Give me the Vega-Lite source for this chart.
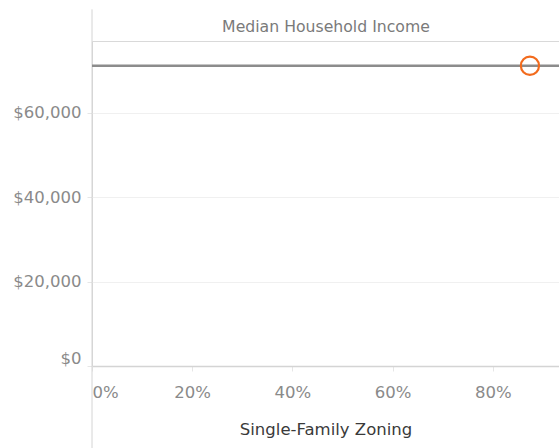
{
  "$schema": "https://vega.github.io/schema/vega-lite/v6.json",
  "autosize": {"type": "none"},
  "padding": {"left": 92, "top": 41, "right": 0, "bottom": 82},
  "width": 467,
  "height": 325,
  "background": "white",
  "config": {
    "font": "DejaVu Sans",
    "view": {"stroke": "#d9d9d9", "strokeWidth": 1}
  },
  "datasets": {
    "points": [{"zoning": 0.874, "income": 71140}],
    "ref": [{"income": 71140}],
    "border": [{"x": 0, "top": 84500, "bottom": -19500}]
  },
  "resolve": {"axis": {"x": "independent"}},
  "layer": [
    {
      "data": {"name": "border"},
      "mark": {"type": "rule", "color": "#d4d4d4", "strokeWidth": 1, "clip": false},
      "encoding": {
        "x": {
          "field": "x",
          "type": "quantitative",
          "scale": {"domain": [0, 0.932], "nice": false, "zero": false},
          "axis": {
            "orient": "top",
            "title": "Median Household Income",
            "titleFontSize": 15.7,
            "titleFontWeight": "normal",
            "titleColor": "#7a7a7a",
            "titlePadding": 7,
            "labels": false,
            "ticks": false,
            "domain": false,
            "grid": false
          }
        },
        "y": {"field": "top", "type": "quantitative"},
        "y2": {"field": "bottom"}
      }
    },
    {
      "data": {"name": "ref"},
      "mark": {"type": "rule", "color": "#8c8c8c", "strokeWidth": 2.5},
      "encoding": {
        "y": {"field": "income", "type": "quantitative"}
      }
    },
    {
      "data": {"name": "points"},
      "mark": {"type": "point", "shape": "circle", "filled": false, "color": "#f26b1d", "strokeWidth": 2.2, "size": 330, "opacity": 1},
      "encoding": {
        "x": {
          "field": "zoning",
          "type": "quantitative",
          "scale": {"domain": [0, 0.932], "nice": false, "zero": false},
          "axis": {
            "title": "Single-Family Zoning",
            "titleFontSize": 16.5,
            "titleFontWeight": "normal",
            "titleColor": "#3a3a3a",
            "titlePadding": 21,
            "format": ".0%",
            "values": [0, 0.2, 0.4, 0.6, 0.8],
            "labelFontSize": 16.5,
            "labelColor": "#8a8a8a",
            "labelFlush": true,
            "labelPadding": 13,
            "tickSize": 5,
            "tickColor": "#e6e6e6",
            "domainColor": "#d4d4d4",
            "domainWidth": 1.5,
            "gridColor": "#f0f0f0"
          }
        },
        "y": {
          "field": "income",
          "type": "quantitative",
          "scale": {"domain": [0, 77000], "nice": false},
          "axis": {
            "title": null,
            "format": "$,.0f",
            "values": [0, 20000, 40000, 60000],
            "labelFontSize": 16.5,
            "labelColor": "#8a8a8a",
            "labelFlush": true,
            "labelPadding": 6,
            "tickSize": 5,
            "tickColor": "#e6e6e6",
            "domain": false,
            "gridColor": "#f0f0f0"
          }
        }
      }
    }
  ]
}
